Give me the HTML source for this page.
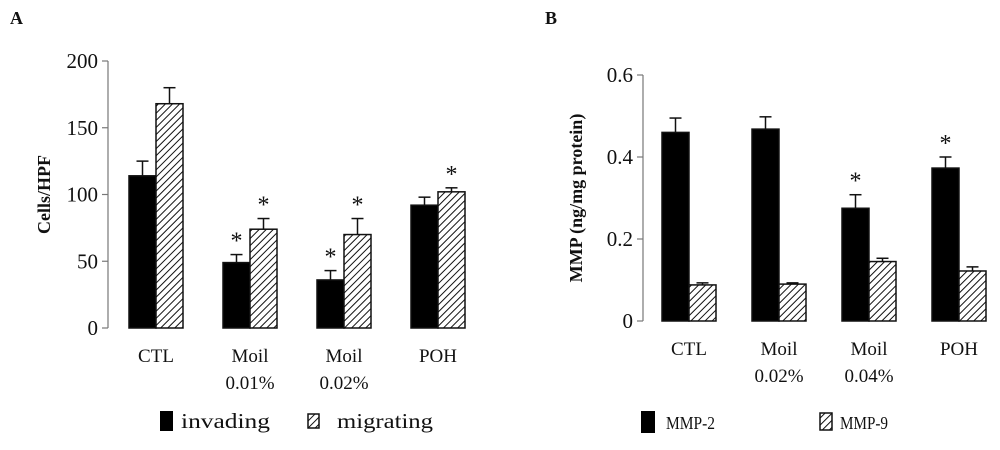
<!DOCTYPE html>
<html><head><meta charset="utf-8"><style>
body{margin:0;background:#fff;}
svg text{font-family:"Liberation Serif",serif;fill:#111;}
</style></head><body>
<svg width="1000" height="445" viewBox="0 0 1000 445" xmlns="http://www.w3.org/2000/svg">
<defs>
<pattern id="hatch" patternUnits="userSpaceOnUse" width="5" height="5" patternTransform="rotate(45)">
<rect width="5" height="5" fill="#fff"/><line x1="0" y1="0" x2="0" y2="5" stroke="#111" stroke-width="2"/>
</pattern>
</defs>
<text x="10" y="24" font-size="18" font-weight="bold">A</text>
<text x="545" y="24" font-size="18" font-weight="bold">B</text>
<g id="chartA"></g>
<g id="chartB"></g>
<g>
<rect x="160" y="411" width="13" height="20" fill="#000"/>
<text x="181" y="428" font-size="21" textLength="89" lengthAdjust="spacingAndGlyphs">invading</text>
<rect x="308" y="414" width="11" height="14" fill="url(#hatch)" stroke="#111" stroke-width="1.5"/>
<text x="337" y="428" font-size="21" textLength="96" lengthAdjust="spacingAndGlyphs">migrating</text>
</g>
<g>
<rect x="641" y="411" width="14" height="22" fill="#000"/>
<text x="666" y="429" font-size="18" textLength="49" lengthAdjust="spacingAndGlyphs">MMP-2</text>
<rect x="820" y="413" width="12" height="17" fill="url(#hatch)" stroke="#111" stroke-width="1.5"/>
<text x="840" y="429" font-size="18" textLength="48" lengthAdjust="spacingAndGlyphs">MMP-9</text>
</g>
</svg>
<script>
const catsA1 = ["CTL","Moil","Moil","POH"];
const catsA2 = ["","0.01%","0.02%",""];
const invading = [114,49,36,92];
const invadingErr = [11,6,7,6];
const migrating = [168,74,70,102];
const migratingErr = [12,8,12,3];
const starsInvading = [false,true,true,false];
const starsMigrating = [false,true,true,true];
const ticksA = [0,50,100,150,200];

const catsB1 = ["CTL","Moil","Moil","POH"];
const catsB2 = ["","0.02%","0.04%",""];
const mmp2 = [0.46,0.468,0.275,0.373];
const mmp2Err = [0.035,0.03,0.033,0.027];
const mmp9 = [0.088,0.09,0.145,0.122];
const mmp9Err = [0.005,0.003,0.008,0.01];
const starsMmp2 = [false,false,true,true];
const starsMmp9 = [false,false,false,false];
const ticksB = ["0","0.2","0.4","0.6"];

const NS="http://www.w3.org/2000/svg";
function mk(parent,tag,attrs){const e=document.createElementNS(NS,tag);for(const k in attrs)e.setAttribute(k,attrs[k]);parent.appendChild(e);return e;}

function drawChart(g,cfg){
  const y=v=>cfg.y0-(v-cfg.min)/(cfg.max-cfg.min)*(cfg.y0-cfg.yTop);
  const ax=mk(g,'line',{x1:cfg.ax,y1:cfg.yTop,x2:cfg.ax,y2:cfg.y0,stroke:'#777','stroke-width':1.2});
  
  
  cfg.ticks.forEach(t=>{
    const v=parseFloat(t);
    const tl=mk(g,'line',{x1:cfg.ax-6,y1:y(v),x2:cfg.ax,y2:y(v),stroke:'#777','stroke-width':1.2});
    
    
    const tx=mk(g,'text',{x:cfg.ax-10,y:y(v)+7,'font-size':21,'text-anchor':'end'});
    tx.textContent=t;
    
    
  });
  const yt=mk(g,'text',{x:0,y:0,'font-size':18,'font-weight':'bold','text-anchor':'middle',transform:`translate(${cfg.titleX},${(cfg.y0+cfg.yTop)/2}) rotate(-90)`});
  yt.textContent=cfg.title;
  
  
  cfg.s1.forEach((v,i)=>{
    const c=cfg.x0+i*cfg.step;
    [[cfg.s1,cfg.e1,cfg.st1,-1,'#000'],[cfg.s2,cfg.e2,cfg.st2,0,'url(#hatch)']].forEach(([s,e,st,off,fill],k)=>{
      const x=c+off*cfg.bw, val=s[i], top=y(val), et=y(val+e[i]);
      const bx=x+cfg.bw/2;
      const el=mk(g,'line',{x1:bx,y1:top,x2:bx,y2:et,stroke:'#111','stroke-width':1.5});
      
      
      const ec=mk(g,'line',{x1:bx-6,y1:et,x2:bx+6,y2:et,stroke:'#111','stroke-width':1.5});
      
      
      const r=mk(g,'rect',{x:x,y:top,width:cfg.bw,height:cfg.y0-top,fill:fill,stroke:'#111','stroke-width':1.5});
      
      
      if(st[i]){
        const s2=mk(g,'text',{x:bx,y:et-6,'font-size':24,'text-anchor':'middle'});
        s2.textContent='*';
        
        
      }
    });
    const l1=mk(g,'text',{x:c+cfg.lo,y:cfg.y0+34,'font-size':19,'text-anchor':'middle'});
    l1.textContent=cfg.c1[i];
    
    
    if(cfg.c2[i]){
      const l2=mk(g,'text',{x:c+cfg.lo,y:cfg.y0+61,'font-size':19,'text-anchor':'middle'});
      l2.textContent=cfg.c2[i];
      
      
    }
  });
}
drawChart(document.getElementById('chartA'),{y0:328,yTop:61,min:0,max:200,ax:108,ticks:ticksA.map(String),title:'Cells/HPF',titleX:50,
  x0:156,step:94,bw:27,s1:invading,e1:invadingErr,st1:starsInvading,s2:migrating,e2:migratingErr,st2:starsMigrating,c1:catsA1,c2:catsA2,lo:0,n1:'invading',n2:'migrating'});
drawChart(document.getElementById('chartB'),{y0:321,yTop:75,min:0,max:0.6,ax:643,ticks:ticksB,title:'MMP (ng/mg protein)',titleX:582,
  x0:689,step:90,bw:27,s1:mmp2,e1:mmp2Err,st1:starsMmp2,s2:mmp9,e2:mmp9Err,st2:starsMmp9,c1:catsB1,c2:catsB2,lo:0,n1:'mmp2',n2:'mmp9'});
</script>
</body></html>
